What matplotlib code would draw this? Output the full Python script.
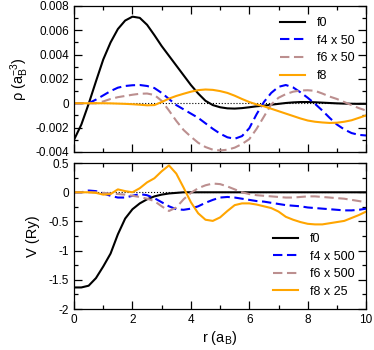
import numpy as np
import matplotlib
matplotlib.use("Agg")
import matplotlib.pyplot as plt
from matplotlib.ticker import MultipleLocator

plt.rcParams['font.family'] = ['Liberation Sans', 'DejaVu Sans']
plt.rcParams['axes.unicode_minus'] = False
plt.rcParams['mathtext.default'] = 'regular'

# radial grid (a_B)
r = np.linspace(0, 10, 41)

# density panel, values in units of 0.001 a_B^-3
rho_f0 = [-3.0, -1.75, -0.05, 1.8, 3.6, 5.0, 6.1, 6.8, 7.12, 7.02, 6.45, 5.6, 4.7, 3.9,
          3.1, 2.3, 1.5, 0.8, 0.2, -0.15, -0.33, -0.42, -0.44, -0.4, -0.33, -0.25, -0.2,
          -0.12, -0.05, 0.02, 0.07, 0.1, 0.1, 0.08, 0.05, 0.02, -0.01, -0.03, -0.04, -0.05, -0.05]
rho_f4 = [0, 0, 0, 0.3, 0.65, 1.0, 1.28, 1.42, 1.48, 1.5, 1.42, 1.25, 0.85, 0.35, -0.15,
          -0.5, -0.85, -1.2, -1.65, -2.1, -2.5, -2.8, -2.92, -2.7, -2.05, -0.9, 0.1, 0.85,
          1.35, 1.5, 1.3, 0.9, 0.45, -0.05, -0.6, -1.2, -1.75, -2.15, -2.45, -2.6, -2.65]
rho_f6 = [0, 0, 0, 0, 0.15, 0.35, 0.5, 0.6, 0.7, 0.78, 0.8, 0.68, 0.2, -0.6, -1.45, -2.2,
          -2.75, -3.25, -3.6, -3.82, -3.88, -3.82, -3.65, -3.35, -2.95, -2.1, -1.1, -0.1,
          0.45, 0.75, 0.95, 1.05, 1.07, 1.02, 0.8, 0.55, 0.35, 0.1, -0.15, -0.4, -0.6]
rho_f8 = [0, 0, 0, 0, 0, -0.01, -0.03, -0.05, -0.08, -0.12, -0.17, -0.15, 0.1, 0.38, 0.6,
          0.78, 0.95, 1.08, 1.13, 1.1, 1.0, 0.85, 0.62, 0.35, 0.1, -0.1, -0.25, -0.45, -0.65,
          -0.85, -1.05, -1.25, -1.42, -1.52, -1.58, -1.62, -1.6, -1.52, -1.4, -1.2, -1.0]

# potential panel (Ry)
v_f0 = [-1.63, -1.63, -1.6, -1.47, -1.27, -1.05, -0.72, -0.45, -0.29, -0.19, -0.12, -0.07,
        -0.04, -0.02, -0.01, 0, 0, 0, 0, 0, 0, 0, 0, 0, 0, 0, 0, 0, 0, 0, 0, 0, 0, 0, 0, 0,
        0, 0, 0, 0, 0]
v_f4 = [0, 0, 0.03, 0.02, -0.02, -0.06, -0.09, -0.09, -0.06, -0.03, -0.05, -0.1, -0.17,
        -0.24, -0.29, -0.3, -0.28, -0.24, -0.18, -0.13, -0.09, -0.08, -0.09, -0.11, -0.13,
        -0.15, -0.16, -0.18, -0.2, -0.22, -0.23, -0.24, -0.26, -0.27, -0.28, -0.29, -0.3,
        -0.31, -0.31, -0.3, -0.28]
v_f6 = [0, 0, 0, 0, -0.01, -0.02, -0.03, -0.04, -0.06, -0.08, -0.11, -0.15, -0.24, -0.32,
        -0.26, -0.12, -0.01, 0.07, 0.12, 0.15, 0.14, 0.1, 0.05, 0.0, -0.03, -0.05, -0.06,
        -0.07, -0.08, -0.09, -0.09, -0.08, -0.07, -0.07, -0.08, -0.09, -0.1, -0.11, -0.13,
        -0.15, -0.17]
v_f8 = [0, 0, 0, -0.01, -0.04, -0.03, 0.05, 0.02, 0.0, 0.07, 0.17, 0.24, 0.36, 0.46, 0.32,
        0.08, -0.17, -0.36, -0.47, -0.49, -0.43, -0.32, -0.22, -0.19, -0.19, -0.21, -0.24,
        -0.27, -0.33, -0.42, -0.47, -0.51, -0.54, -0.55, -0.55, -0.53, -0.51, -0.49, -0.44,
        -0.39, -0.33]

rho_ticks = [-0.004, -0.002, 0, 0.002, 0.004, 0.006, 0.008]
rho_ticklabels = ['-0.004', '-0.002', '0', '0.002', '0.004', '0.006', '0.008']
v_ticks = [-2, -1.5, -1, -0.5, 0, 0.5]
v_ticklabels = ['-2', '-1.5', '-1', '-0.5', '0', '0.5']

colors = ['black', '#0000ff', '#bc8f8f', '#ffa500']
styles = ['-', (0, (4.5, 2.2)), (0, (4.5, 2.2)), '-']

fig = plt.figure(figsize=(3.74, 3.5), dpi=100)
ax1 = fig.add_axes([0.198, 0.566, 0.781, 0.417])
ax2 = fig.add_axes([0.198, 0.117, 0.781, 0.417])

scale = 0.001
top = [rho_f0, rho_f4, rho_f6, rho_f8]
top_labels = ['f0', 'f4 x 50', 'f6 x 50', 'f8']
for y, c, s, lab in zip(top, colors, styles, top_labels):
    ax1.plot(r, np.array(y) * scale, color=c, ls=s, lw=1.5, label=lab)

bot = [v_f0, v_f4, v_f6, v_f8]
bot_labels = ['f0', 'f4 x 500', 'f6 x 500', 'f8 x 25']
for y, c, s, lab in zip(bot, colors, styles, bot_labels):
    ax2.plot(r, y, color=c, ls=s, lw=1.5, label=lab)

for ax in (ax1, ax2):
    ax.axhline(0, color='k', ls=':', lw=0.8, zorder=0)
    ax.set_xlim(0, 10)
    ax.xaxis.set_major_locator(MultipleLocator(2))
    ax.xaxis.set_minor_locator(MultipleLocator(1))
    ax.tick_params(which='both', direction='in', top=True, right=True, labelsize=8.5)
    ax.tick_params(which='major', length=6, width=0.9)
    ax.tick_params(which='minor', length=3, width=0.9)
    for sp in ax.spines.values():
        sp.set_linewidth(0.9)

ax1.set_ylim(-0.004, 0.008)
ax1.set_yticks(rho_ticks)
ax1.set_yticklabels(rho_ticklabels)
ax1.yaxis.set_minor_locator(MultipleLocator(0.001))
ax1.tick_params(labelbottom=False)
ax1.set_ylabel(r'ρ (a$_B^{-3}$)', fontsize=10.5, labelpad=3)

ax2.set_ylim(-2, 0.5)
ax2.set_yticks(v_ticks)
ax2.set_yticklabels(v_ticklabels)
ax2.yaxis.set_minor_locator(MultipleLocator(0.25))
ax2.set_xlabel(r'r (a$_B$)', fontsize=10.5, labelpad=2)
ax2.set_ylabel('V (Ry)', fontsize=10.5, labelpad=6)

ax1.legend(loc='upper right', frameon=False, fontsize=9, handlelength=2.0,
           labelspacing=0.45, borderaxespad=0.5, handletextpad=1.0)
ax2.legend(loc='lower right', frameon=False, fontsize=9, handlelength=2.0,
           labelspacing=0.45, borderaxespad=0.5, handletextpad=1.0)

fig.savefig('out.png', dpi=100)
